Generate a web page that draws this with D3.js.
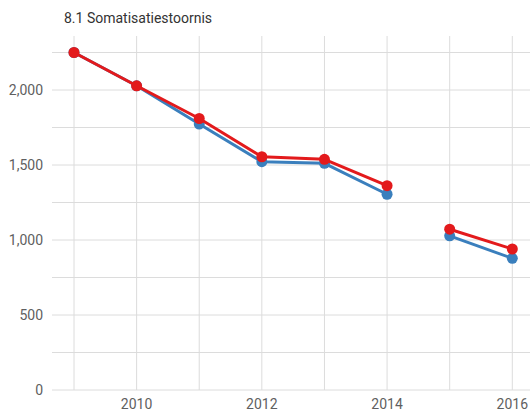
<!DOCTYPE html>
<html><head><meta charset="utf-8">
<script src="https://cdn.jsdelivr.net/npm/d3@7"></script>
<style>body{margin:0;background:#fff;}svg{display:block;font-family:Roboto,"Noto Sans",sans-serif;}</style>
</head><body>
<svg id="c" width="530" height="411"></svg>
<script>
const title = "8.1 Somatisatiestoornis";
const years = [2009, 2010, 2011, 2012, 2013, 2014, 2015, 2016];
const seriesRed = [2250, 2028, 1810, 1555, 1538, 1362, 1072, 940];
const seriesBlue = [2250, 2028, 1773, 1522, 1511, 1305, 1028, 878];
// gap in data between 2014 and 2015
const breakAfter = [2014];
const yTicks = [0, 500, 1000, 1500, 2000];
const xTicks = [2010, 2012, 2014, 2016];

const svg = d3.select("#c");
const pLeft = 52, pRight = 530, pTop = 36, pBottom = 390;
const x = d3.scaleLinear().domain([2009, 2016]).range([74, 512.3]);
const y = d3.scaleLinear().domain([0, 2250]).range([pBottom, 52.5]);

svg.append("text").attr("x", 64).attr("y", 23).attr("font-size", 14).attr("fill", "#333").text(title);

const g = svg.append("g");
g.selectAll("line.h").data(d3.range(0, 2251, 250)).enter().append("line")
  .attr("x1", pLeft).attr("x2", pRight).attr("y1", d => y(d)).attr("y2", d => y(d))
  .attr("stroke", "#dcdcdc").attr("stroke-width", 1);
g.selectAll("line.v").data(years).enter().append("line")
  .attr("x1", d => x(d)).attr("x2", d => x(d)).attr("y1", pTop).attr("y2", pBottom)
  .attr("stroke", "#dcdcdc").attr("stroke-width", 1);

svg.selectAll("text.yl").data(yTicks).enter().append("text")
  .attr("x", 43).attr("y", d => y(d)).attr("dy", "0.36em").attr("text-anchor", "end")
  .attr("font-size", 14).attr("fill", "#5f5f5f").text(d => d3.format(",")(d));
svg.selectAll("text.xl").data(xTicks).enter().append("text")
  .attr("x", d => x(d)).attr("y", 409).attr("text-anchor", "middle")
  .attr("font-size", 14).attr("fill", "#5f5f5f").text(d => d);

function drawSeries(vals, color) {
  const data = years.map((yr, i) => ({yr, v: vals[i]}));
  const segs = [];
  let cur = [];
  data.forEach(d => {
    cur.push(d);
    if (breakAfter.includes(d.yr)) { segs.push(cur); cur = []; }
  });
  if (cur.length) segs.push(cur);
  const line = d3.line().x(d => x(d.yr)).y(d => y(d.v));
  segs.forEach(s => {
    svg.append("path").attr("d", line(s)).attr("fill", "none")
      .attr("stroke", color).attr("stroke-width", 3).attr("stroke-linejoin", "round");
  });
  svg.selectAll(null).data(data).enter().append("circle")
    .attr("cx", d => x(d.yr)).attr("cy", d => y(d.v)).attr("r", 5.5).attr("fill", color);
}
drawSeries(seriesBlue, "#3a7fbd");
drawSeries(seriesRed, "#e31a1c");
</script>
</body></html>
